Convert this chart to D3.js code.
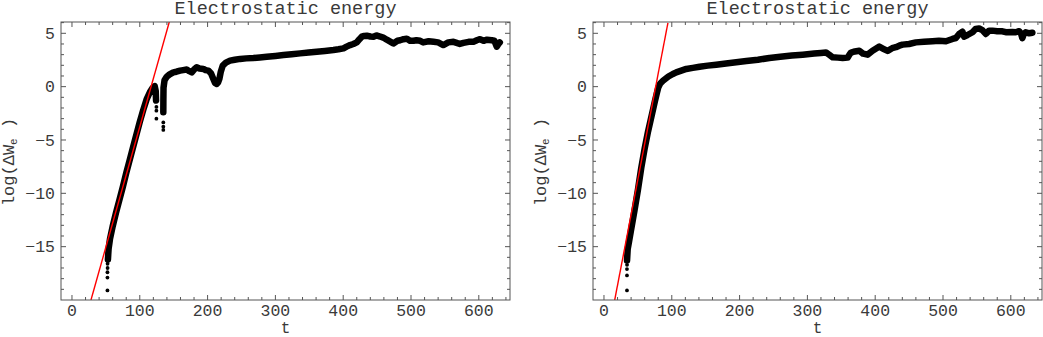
<!DOCTYPE html>
<html>
<head>
<meta charset="utf-8">
<script src="https://cdn.jsdelivr.net/npm/d3@7"></script>
<style>
  body { margin: 0; background: #fff; }
  text { font-family: "Liberation Mono", "DejaVu Sans Mono", monospace; fill: #3a3a3a; }
</style>
</head>
<body>
<div id="container"></div>
<script>
var titles = ["Electrostatic energy", "Electrostatic energy"];
var xTicks = [0, 100, 200, 300, 400, 500, 600];
var yTicks = [-15, -10, -5, 0, 5];

var leftT = [53, 54, 56, 60, 65, 70, 75, 80, 85, 90, 95, 100, 105, 110, 115, 119, 122, 123.5, 124,
  NaN,
  134.7, 134.8, 135, 136.5, 139.7, 144, 149.5, 154, 159.4, 164, 169.2, 173, 176.6, 180, 183.9, 188, 193.8, 197, 201.1, 205,
  208.5, 211, 213.5, 215.5, 217.4, 219.5, 222.3, 227, 233.1, 240, 248, 257, 267.6, 277, 287.3, 300, 311.9, 324, 336.5,
  349, 361, 373, 385.6, 393, 400.4, 405, 410.2, 415, 420, 424, 427.4, 431, 434.8, 440, 444.6, 449, 454.5, 459, 464.3,
  470, 474, 480, 484, 489, 493.8, 498.5, 503.6, 508, 513.5, 518, 526, 533.2, 540, 547.6, 555, 562.6, 567.3, 572, 577.4,
  585, 592, 597, 601.8, 607, 612, 619, 623, 626.4, 629, 631];
var leftW = [-16.2, -15.2, -14.3, -13.1, -11.8, -10.6, -9.4, -8.1, -6.9, -5.7, -4.5, -3.3, -2.2, -1.2, -0.5, -0.1, 0.05, -0.4, -1.3,
  NaN,
  -2.4, -1.2, -0.1, 0.6, 0.93, 1.15, 1.34, 1.4, 1.5, 1.55, 1.6, 1.45, 1.34, 1.6, 1.81, 1.7, 1.66, 1.55, 1.5, 1.25,
  0.72, 0.35, 0.25, 0.4, 0.72, 1.4, 1.97, 2.25, 2.44, 2.52, 2.6, 2.65, 2.69, 2.74, 2.8, 2.88, 2.96, 3.04, 3.12,
  3.2, 3.28, 3.35, 3.43, 3.5, 3.59, 3.75, 3.9, 4.0, 4.15, 4.45, 4.68, 4.75, 4.78, 4.7, 4.68, 4.8, 4.7, 4.6, 4.4,
  4.2, 4.05, 4.3, 4.35, 4.45, 4.5, 4.3, 4.3, 4.35, 4.3, 4.15, 4.25, 4.2, 4.15, 3.9, 4.15, 4.2, 4.1, 4.0, 4.1,
  4.2, 4.2, 4.35, 4.45, 4.3, 4.4, 4.35, 4.3, 3.75, 4.0, 4.15];
var leftDotT = [52.3, 52.3, 52.3, 52.5, 52.5, 124.5, 124.5, 124.5, 134.7, 134.7, 134.7];
var leftDotW = [-19.1, -17.9, -17.4, -17.0, -16.6, -1.9, -2.25, -3.0, -3.35, -3.75, -4.06];
var leftFitT = [28, 143.5];
var leftFitW = [-20, 6.06];

var rightT = [34, 35, 37, 40, 45, 50, 55, 60, 65, 70, 75, 78, 80, 83, 87, 95, 101.6, 106.6, 114, 121.4, 131, 141, 153,
  165.5, 180, 195, 210, 227, 244, 260, 277, 293, 310, 320, 327.5, 332, 337.3, 345, 352, 359.4, 362, 364.3, 370, 376.6,
  382, 388.8, 396.1, 402, 406, 412, 418.3, 425, 430.5, 435.5, 440.3, 450, 460, 472, 484.5, 494, 504.3, 514, 519, 523.8,
  528.7, 531.2, 536.1, 543.5, 548, 553.3, 558, 563.1, 568, 572.9, 580, 587.6, 592.6, 602.3, 607.4, 612.2, 615, 617, 619,
  622, 627, 631.8];
var rightW = [-16.3, -15.2, -14.5, -13.4, -11.6, -9.7, -7.6, -5.8, -4.2, -2.8, -1.4, -0.6, -0.1, 0.3, 0.55, 0.95, 1.19, 1.34, 1.5, 1.66, 1.76, 1.87, 1.97,
  2.06, 2.17, 2.28, 2.4, 2.52, 2.69, 2.8, 2.92, 3.0, 3.1, 3.16, 3.2, 3.0, 2.75, 2.72, 2.69, 2.72, 3.0, 3.2, 3.3, 3.37,
  3.1, 3.0, 3.37, 3.6, 3.75, 3.55, 3.35, 3.6, 3.7, 3.84, 3.94, 4.0, 4.15, 4.2, 4.25, 4.3, 4.25, 4.47, 4.56, 4.94,
  5.15, 4.68, 4.84, 5.1, 5.4, 5.45, 5.3, 4.94, 5.25, 5.25, 5.2, 5.19, 5.1, 5.12, 5.1, 5.2, 5.0, 4.55, 4.9,
  5.1, 5.0, 5.05];
var rightDotT = [33.9, 33.9, 33.9, 34];
var rightDotW = [-19.1, -17.7, -17.1, -16.7];
var rightFitT = [15.8, 94.3];
var rightFitW = [-20, 5.97];

var W = 1043, H = 337;
var top0 = 22, bottom0 = 300;

var svg = d3.select("#container").append("svg")
  .attr("width", W).attr("height", H);

var panels = [
  { left: 61, right: 510, t: leftT, w: leftW, dt: leftDotT, dw: leftDotW, ft: leftFitT, fw: leftFitW, title: titles[0] },
  { left: 593, right: 1042, t: rightT, w: rightW, dt: rightDotT, dw: rightDotW, ft: rightFitT, fw: rightFitW, title: titles[1] }
];

var fmt = d3.format("d");

panels.forEach(function(p, i) {
  var x = d3.scaleLinear().domain([-16.2, 646]).range([p.left, p.right]);
  var y = d3.scaleLinear().domain([-20, 6.06]).range([bottom0, top0]);
  var g = svg.append("g");

  g.append("clipPath").attr("id", "clip" + i)
    .append("rect")
    .attr("x", p.left).attr("y", top0)
    .attr("width", p.right - p.left).attr("height", bottom0 - top0);

  var plot = g.append("g").attr("clip-path", "url(#clip" + i + ")");

  var pts = p.t.map(function(t, k) { return { t: t, w: p.w[k] }; });
  var line = d3.line()
    .defined(function(d) { return !isNaN(d.w); })
    .x(function(d) { return x(d.t); })
    .y(function(d) { return y(d.w); });

  plot.append("path")
    .datum(pts)
    .attr("d", line)
    .attr("fill", "none")
    .attr("stroke", "#000")
    .attr("stroke-width", 6.5)
    .attr("stroke-linejoin", "round")
    .attr("stroke-linecap", "round");

  // red fit line over the data
  plot.append("line")
    .attr("x1", x(p.ft[0])).attr("y1", y(p.fw[0]))
    .attr("x2", x(p.ft[1])).attr("y2", y(p.fw[1]))
    .attr("stroke", "#ff0000").attr("stroke-width", 1.4);

  var dots = p.dt.map(function(t, k) { return { t: t, w: p.dw[k] }; });
  plot.selectAll("circle.dot")
    .data(dots)
    .enter().append("circle")
    .attr("class", "dot")
    .attr("cx", function(d) { return x(d.t); })
    .attr("cy", function(d) { return y(d.w); })
    .attr("r", 1.9)
    .attr("fill", "#000");

  // frame
  g.append("rect")
    .attr("x", p.left).attr("y", top0)
    .attr("width", p.right - p.left).attr("height", bottom0 - top0)
    .attr("fill", "none").attr("stroke", "#555").attr("stroke-width", 1);

  // ticks on all four sides, pointing inward
  var xMinor = d3.range(0, 641, 20);
  var yMinor = d3.range(-19, 7, 1);
  var tk = g.append("g").attr("stroke", "#555").attr("stroke-width", 1);
  xMinor.forEach(function(v) {
    var len = v % 100 === 0 ? 5 : 3;
    tk.append("line").attr("x1", x(v)).attr("x2", x(v)).attr("y1", bottom0).attr("y2", bottom0 - len);
    tk.append("line").attr("x1", x(v)).attr("x2", x(v)).attr("y1", top0).attr("y2", top0 + len);
  });
  yMinor.forEach(function(v) {
    var len = v % 5 === 0 ? 5 : 3;
    tk.append("line").attr("y1", y(v)).attr("y2", y(v)).attr("x1", p.left).attr("x2", p.left + len);
    tk.append("line").attr("y1", y(v)).attr("y2", y(v)).attr("x1", p.right).attr("x2", p.right - len);
  });

  // tick labels
  g.selectAll("text.xt")
    .data(xTicks).enter().append("text")
    .attr("class", "xt")
    .attr("x", function(d) { return x(d); })
    .attr("y", 316)
    .attr("text-anchor", "middle")
    .style("font-size", "16.5px")
    .text(fmt);

  g.selectAll("text.yt")
    .data(yTicks).enter().append("text")
    .attr("class", "yt")
    .attr("x", p.left - 6)
    .attr("y", function(d) { return y(d); })
    .attr("dy", "0.35em")
    .attr("text-anchor", "end")
    .style("font-size", "16.5px")
    .text(fmt);

  // title
  g.append("text")
    .attr("x", (p.left + p.right) / 2)
    .attr("y", 14)
    .attr("text-anchor", "middle")
    .style("font-size", "18.5px")
    .text(p.title);

  // axis labels
  g.append("text")
    .attr("x", (p.left + p.right) / 2)
    .attr("y", 333)
    .attr("text-anchor", "middle")
    .style("font-size", "16px")
    .text("t");

  var yl = g.append("text")
    .attr("transform", "translate(" + (p.left - 47) + "," + ((top0 + bottom0) / 2 + 1) + ") rotate(-90)")
    .attr("text-anchor", "middle")
    .style("font-size", "17px");
  yl.append("tspan").text("log(\u0394W");
  yl.append("tspan").attr("dy", 3).style("font-size", "11px").text("e");
  yl.append("tspan").attr("dy", -3).text(" )");
});
</script>
</body>
</html>
